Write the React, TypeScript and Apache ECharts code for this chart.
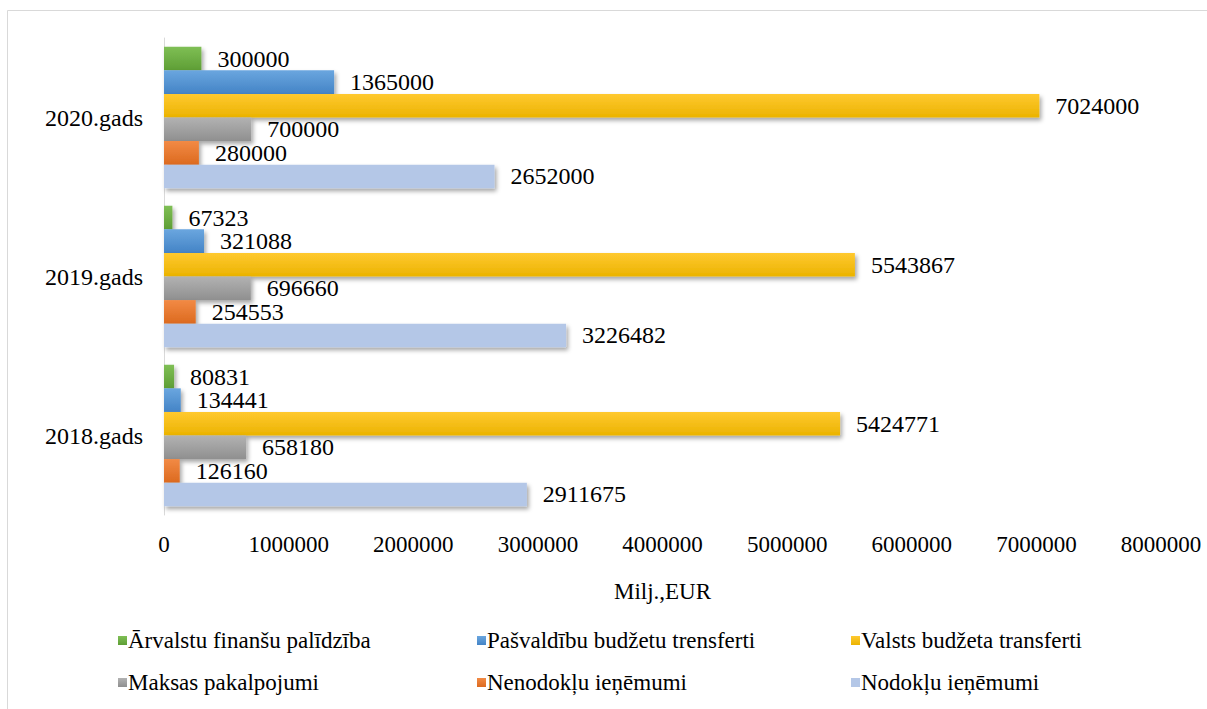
import React, { useEffect, useRef } from "react";
import * as echarts from "echarts";

const categories = ["2018.gads", "2019.gads", "2020.gads"];
const seriesNames = [
  "Ārvalstu finanšu palīdzība",
  "Pašvaldību budžetu trensferti",
  "Valsts budžeta transferti",
  "Maksas pakalpojumi",
  "Nenodokļu ieņēmumi",
  "Nodokļu ieņēmumi",
];
const arvalstu = [80831, 67323, 300000];
const pasvaldibu = [134441, 321088, 1365000];
const valsts = [5424771, 5543867, 7024000];
const maksas = [658180, 696660, 700000];
const nenodoklu = [126160, 254553, 280000];
const nodoklu = [2911675, 3226482, 2652000];
const seriesValues = [arvalstu, pasvaldibu, valsts, maksas, nenodoklu, nodoklu];
const xTicks = [0, 1000000, 2000000, 3000000, 4000000, 5000000, 6000000, 7000000, 8000000];

const colorsTop = ["#7fbf55", "#6aa6df", "#ffc930", "#b2b2b2", "#f28a45", "#b4c7e7"];
const colorsBottom = ["#5e9e35", "#4484c6", "#ebb300", "#8f8f8f", "#dc6a1f", "#b4c7e7"];

const legendPos = [
  { left: 118, top: 629 },
  { left: 477, top: 629 },
  { left: 851, top: 629 },
  { left: 118, top: 671 },
  { left: 477, top: 671 },
  { left: 851, top: 671 },
];

const FONT = "'Liberation Serif', 'Times New Roman', serif";

export default function App() {
  const ref = useRef<HTMLDivElement>(null);
  useEffect(() => {
    if (!ref.current) return;
    const chart = echarts.init(ref.current, null, { renderer: "svg" });
    const grad = (i: number) =>
      new echarts.graphic.LinearGradient(0, 0, 0, 1, [
        { offset: 0, color: colorsTop[i] },
        { offset: 1, color: colorsBottom[i] },
      ]);
    chart.setOption({
      animation: false,
      backgroundColor: "#fff",
      textStyle: { fontFamily: FONT },
      graphic: [
        {
          type: "rect",
          shape: { x: 7.5, y: 10.5, width: 1220, height: 720 },
          style: { fill: "none", stroke: "#d9d9d9", lineWidth: 1 },
          silent: true,
        },
      ],
      grid: { left: 164, right: 46, top: 38, bottom: 194, containLabel: false },
      legend: seriesNames.map((n, i) => ({
        data: [{ name: n, itemStyle: { color: grad(i) } }],
        left: legendPos[i].left,
        top: legendPos[i].top,
        icon: "rect",
        itemWidth: 9,
        itemHeight: 9,
        padding: 0,
        textStyle: { fontFamily: FONT, fontSize: 23, color: "#000", padding: [0, 0, 0, -4] },
        selectedMode: false,
      })),
      xAxis: {
        type: "value",
        min: 0,
        max: 8000000,
        interval: 1000000,
        splitLine: { show: false },
        axisLine: { show: false },
        axisTick: { show: false },
        axisLabel: {
          fontFamily: FONT,
          fontSize: 23,
          color: "#000",
          margin: 18,
          formatter: (v: number) => (xTicks.includes(v) ? String(v) : ""),
        },
        name: "Milj.,EUR",
        nameLocation: "middle",
        nameGap: 65,
        nameTextStyle: { fontFamily: FONT, fontSize: 23, color: "#000" },
      },
      yAxis: {
        type: "category",
        data: categories,
        axisLine: { show: true, lineStyle: { color: "#d9d9d9", width: 1 } },
        axisTick: { show: false },
        axisLabel: { fontFamily: FONT, fontSize: 24, color: "#000", margin: 21 },
      },
      series: seriesNames.map((n, i) => ({
        name: n,
        type: "bar",
        data: seriesValues[i],
        barGap: "0%",
        barCategoryGap: "11%",
        itemStyle: {
          color: grad(i),
          shadowColor: "rgba(0,0,0,0.35)",
          shadowBlur: 4,
          shadowOffsetX: 2,
          shadowOffsetY: 3,
        },
        label: {
          show: true,
          position: "right",
          distance: 16,
          fontFamily: FONT,
          fontSize: 24,
          color: "#000",
        },
      })),
    });
    return () => chart.dispose();
  }, []);
  return (
    <div
      ref={ref}
      style={{ position: "fixed", left: 0, top: 0, width: 1207, height: 709 }}
    />
  );
}
